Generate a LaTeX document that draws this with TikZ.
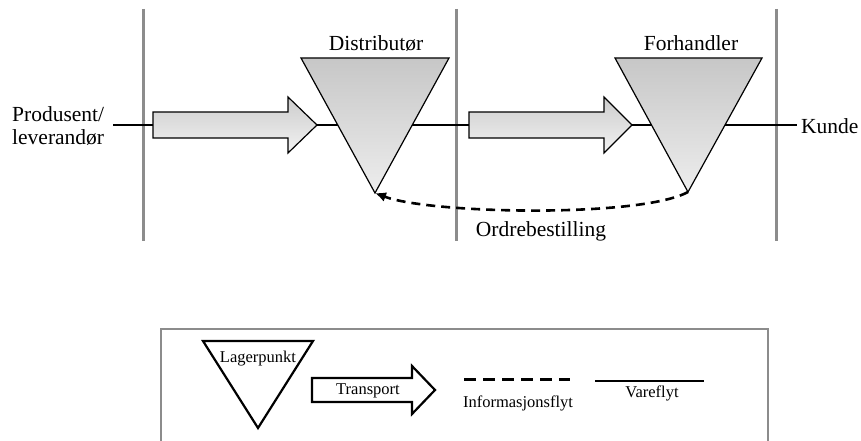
\documentclass[tikz,border=0pt]{standalone}
\usepackage{fontspec}
\setmainfont{Liberation Serif}
\usetikzlibrary{arrows.meta}
\begin{document}
\begin{tikzpicture}[x=1pt,y=-1pt,
  divider/.style={draw=black!45,line width=3pt},
  flowline/.style={draw=black,line width=2.4pt},
  stockpoint/.style={draw=black,line width=1.2pt,top color=black!22,bottom color=black!7},
  transport/.style={draw=black,line width=1.2pt,top color=black!20,bottom color=black!5},
  infoflow/.style={draw=black,line width=2.6pt,dash pattern=on 9pt off 6pt},
  bigtext/.style={font=\fontsize{21.5}{23}\selectfont,inner sep=0pt},
  smalltext/.style={font=\fontsize{16.5}{18}\selectfont,inner sep=0pt},
  legendtri/.style={draw=black,line width=2.2pt,fill=white},
  legendarrow/.style={draw=black,line width=2.2pt,fill=white},
  legendframe/.style={draw=black!45,line width=2.2pt}]
\useasboundingbox (0,0) rectangle (861,441);

% stage dividers
\draw[divider] (143,9) -- (143,241);
\draw[divider] (456,9) -- (456,241);
\draw[divider] (776,9) -- (776,241);

% goods flow line from supplier to customer
\coordinate (flowstart) at (113,125);
\coordinate (flowend) at (797,125);
\draw[flowline] (flowstart) -- (flowend);

\node[bigtext,align=left,anchor=west] (supplier) at (12,126) {Produsent/\\leverandør};
\node[bigtext,anchor=west] (customer) at (801,126) {Kunde};

% transport arrows
\draw[transport] (153,112) -- (288,112) -- (288,97) -- (317,125) -- (288,153) -- (288,138) -- (153,138) -- cycle;
\draw[transport] (469,112) -- (604,112) -- (604,97) -- (632,125) -- (604,153) -- (604,138) -- (469,138) -- cycle;

% stock points
\coordinate (dist-apex) at (375,193);
\coordinate (ret-apex) at (688,192);
\draw[stockpoint] (301,58) -- (449,58) -- (dist-apex) -- cycle;
\draw[stockpoint] (615,58) -- (762,58) -- (ret-apex) -- cycle;
\node[bigtext] (dist) at (376,43) {Distributør};
\node[bigtext] (ret) at (691,43) {Forhandler};

% order information flow
\draw[infoflow,-{Latex[length=11pt,width=10pt]}] (ret-apex) .. controls (640,218) and (430,214) .. (dist-apex);
\node[bigtext] (order) at (541,231) {Ordrebestilling};

% legend
\draw[legendframe] (161,445) -- (161,329) -- (768,329) -- (768,445);
\draw[legendtri] (203,341) -- (313,341) -- (258,428) -- cycle;
\node[smalltext] (lagerpunkt) at (258,359) {Lagerpunkt};
\draw[legendarrow] (312,378) -- (412,378) -- (412,366) -- (435,390) -- (412,414) -- (412,402) -- (312,402) -- cycle;
\node[smalltext] (transportlbl) at (368,391) {Transport};
\coordinate (infoA) at (464,379);
\coordinate (infoB) at (570,379);
\draw[draw=black,line width=3pt,dash pattern=on 12pt off 7pt] (infoA) -- (infoB);
\node[smalltext] (infolbl) at (518,403) {Informasjonsflyt};
\coordinate (goodsA) at (595,381);
\coordinate (goodsB) at (704,381);
\draw[draw=black,line width=2.6pt] (goodsA) -- (goodsB);
\node[smalltext] (goodslbl) at (652,393) {Vareflyt};
\end{tikzpicture}
\end{document}
